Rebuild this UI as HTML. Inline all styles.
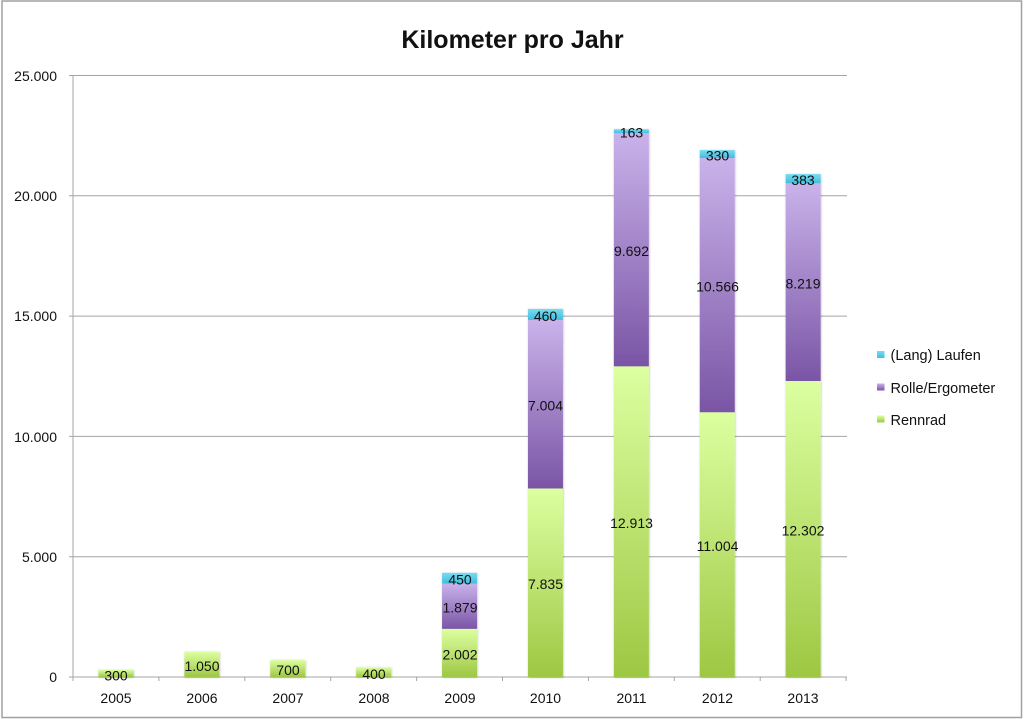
<!DOCTYPE html>
<html><head><meta charset="utf-8"><style>
html,body{margin:0;padding:0;background:#fff;}
svg{display:block;}
text{font-family:"Liberation Sans",sans-serif;fill:#111;}
</style></head><body>
<svg width="1024" height="719" viewBox="0 0 1024 719" xmlns="http://www.w3.org/2000/svg">
<defs>
<linearGradient id="g" x1="0" y1="0" x2="0" y2="1"><stop offset="0" stop-color="#dcffa0"/><stop offset="1" stop-color="#9ec743"/></linearGradient>
<linearGradient id="p" x1="0" y1="0" x2="0" y2="1"><stop offset="0" stop-color="#c9b2ea"/><stop offset="1" stop-color="#7a55a5"/></linearGradient>
<linearGradient id="c" x1="0" y1="0" x2="0" y2="1"><stop offset="0" stop-color="#7adcf0"/><stop offset="1" stop-color="#3fbedf"/></linearGradient>
<filter id="sh" x="-20%" y="-5%" width="140%" height="110%"><feDropShadow dx="0.5" dy="0.5" stdDeviation="1" flood-color="#000" flood-opacity="0.25"/></filter>
</defs>
<rect x="2" y="1" width="1019.5" height="716.5" fill="#fff" stroke="#a0a0a0" stroke-width="1.5"/>
<text x="512.5" y="48" font-size="25" font-weight="bold" text-anchor="middle">Kilometer pro Jahr</text>
<g stroke="#a4a4a4" stroke-width="1">
<line x1="69" y1="75.5" x2="847" y2="75.5"/>
<line x1="69" y1="195.8" x2="847" y2="195.8"/>
<line x1="69" y1="316.1" x2="847" y2="316.1"/>
<line x1="69" y1="436.4" x2="847" y2="436.4"/>
<line x1="69" y1="556.7" x2="847" y2="556.7"/>
<line x1="69" y1="677" x2="847" y2="677"/>
<line x1="73" y1="75.5" x2="73" y2="677"/>
<line x1="73" y1="677" x2="73" y2="681"/>
<line x1="158.9" y1="677" x2="158.9" y2="681"/>
<line x1="244.8" y1="677" x2="244.8" y2="681"/>
<line x1="330.7" y1="677" x2="330.7" y2="681"/>
<line x1="416.6" y1="677" x2="416.6" y2="681"/>
<line x1="502.5" y1="677" x2="502.5" y2="681"/>
<line x1="588.4" y1="677" x2="588.4" y2="681"/>
<line x1="674.3" y1="677" x2="674.3" y2="681"/>
<line x1="760.2" y1="677" x2="760.2" y2="681"/>
<line x1="846.1" y1="677" x2="846.1" y2="681"/>
</g>
<g font-size="14" text-anchor="end">
<text x="57" y="81">25.000</text>
<text x="57" y="201">20.000</text>
<text x="57" y="321">15.000</text>
<text x="57" y="442">10.000</text>
<text x="57" y="562">5.000</text>
<text x="57" y="682">0</text>
</g>
<g font-size="14" text-anchor="middle">
<text x="116" y="703">2005</text>
<text x="202" y="703">2006</text>
<text x="288" y="703">2007</text>
<text x="374" y="703">2008</text>
<text x="460" y="703">2009</text>
<text x="545.5" y="703">2010</text>
<text x="631.5" y="703">2011</text>
<text x="717.5" y="703">2012</text>
<text x="803" y="703">2013</text>
</g>
<g filter="url(#sh)">
<rect x="98.45" y="669.78" width="35" height="7.22" fill="url(#g)"/>
<rect x="184.35" y="651.74" width="35" height="25.26" fill="url(#g)"/>
<rect x="270.25" y="660.16" width="35" height="16.84" fill="url(#g)"/>
<rect x="356.15" y="667.38" width="35" height="9.62" fill="url(#g)"/>
<rect x="442.05" y="628.83" width="35" height="48.17" fill="url(#g)"/>
<rect x="442.05" y="583.62" width="35" height="45.21" fill="url(#p)"/>
<rect x="442.05" y="572.79" width="35" height="10.83" fill="url(#c)"/>
<rect x="527.95" y="488.49" width="35" height="188.51" fill="url(#g)"/>
<rect x="527.95" y="319.97" width="35" height="168.52" fill="url(#p)"/>
<rect x="527.95" y="308.9" width="35" height="11.07" fill="url(#c)"/>
<rect x="613.85" y="366.31" width="35" height="310.69" fill="url(#g)"/>
<rect x="613.85" y="133.12" width="35" height="233.19" fill="url(#p)"/>
<rect x="613.85" y="129.2" width="35" height="3.92" fill="url(#c)"/>
<rect x="699.75" y="412.24" width="35" height="264.76" fill="url(#g)"/>
<rect x="699.75" y="158.02" width="35" height="254.22" fill="url(#p)"/>
<rect x="699.75" y="150.08" width="35" height="7.94" fill="url(#c)"/>
<rect x="785.65" y="381.01" width="35" height="295.99" fill="url(#g)"/>
<rect x="785.65" y="183.26" width="35" height="197.75" fill="url(#p)"/>
<rect x="785.65" y="174.05" width="35" height="9.21" fill="url(#c)"/>
</g>
<g font-size="14" text-anchor="middle">
<text x="116" y="680.5">300</text>
<text x="202" y="671">1.050</text>
<text x="288" y="675">700</text>
<text x="374" y="679">400</text>
<text x="460" y="659.5">2.002</text>
<text x="460" y="612.7">1.879</text>
<text x="460" y="584.7">450</text>
<text x="545.5" y="589.2">7.835</text>
<text x="545.5" y="410.7">7.004</text>
<text x="545.5" y="320.9">460</text>
<text x="631.5" y="528.2">12.913</text>
<text x="631.5" y="256.2">9.692</text>
<text x="631.5" y="137.7">163</text>
<text x="717.5" y="551.1">11.004</text>
<text x="717.5" y="291.6">10.566</text>
<text x="717.5" y="160.5">330</text>
<text x="803" y="535.5">12.302</text>
<text x="803" y="288.6">8.219</text>
<text x="803" y="185.1">383</text>
</g>
<rect x="877" y="351" width="7.5" height="7" fill="url(#c)"/>
<rect x="877" y="383.5" width="7.5" height="7" fill="url(#p)"/>
<rect x="877" y="415.5" width="7.5" height="7" fill="url(#g)"/>
<g font-size="14.5">
<text x="890.5" y="360">(Lang) Laufen</text>
<text x="890.5" y="393">Rolle/Ergometer</text>
<text x="890.5" y="425">Rennrad</text>
</g>
</svg>
</body></html>
